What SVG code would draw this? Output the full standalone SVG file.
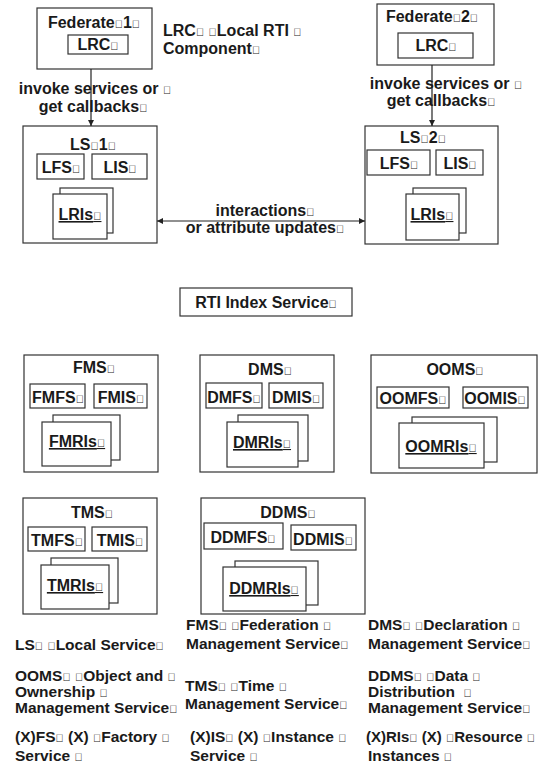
<svg xmlns="http://www.w3.org/2000/svg" width="540" height="784" viewBox="0 0 540 784">
<defs>
<marker id="ah" viewBox="0 0 10 10" refX="10" refY="5" markerWidth="7" markerHeight="6" orient="auto-start-reverse" markerUnits="userSpaceOnUse"><path d="M0,0 L10,5 L0,10 z" fill="#222"/></marker>
</defs>
<style>
text{font-family:"Liberation Sans",Arial,sans-serif;font-weight:bold;font-size:16px;fill:#1a1a1a}
.lg{font-size:15.5px}
.sm{font-size:15px}
.t{font-size:11px}
.c{text-anchor:middle}
.b{fill:#fff;stroke:#333;stroke-width:1.2}
.u{text-decoration:underline}
.ln{stroke:#222;stroke-width:1.2;fill:none}
</style>
<rect width="540" height="784" fill="#fff"/>

<g id="federate1">
<rect class="b" x="37" y="8" width="115" height="61"/>
<text class="c" x="94" y="28">Federate<tspan class="t">&#xF020;</tspan>1<tspan class="t">&#xF020;</tspan></text>
<rect class="b" x="68" y="35" width="60" height="19"/>
<text class="c" x="98" y="50">LRC<tspan class="t">&#xF020;</tspan></text>
</g>

<g id="lrc-note">
<text x="163" y="36">LRC<tspan class="t">&#xF020;</tspan> <tspan class="t">&#xF020;</tspan>Local RTI <tspan class="t">&#xF020;</tspan></text>
<text x="163" y="54">Component<tspan class="t">&#xF020;</tspan></text>
</g>

<g id="federate2">
<rect class="b" x="377" y="4" width="117" height="61"/>
<text class="c" x="432" y="22">Federate<tspan class="t">&#xF020;</tspan>2<tspan class="t">&#xF020;</tspan></text>
<rect class="b" x="398" y="33" width="75" height="25"/>
<text class="c" x="436" y="51">LRC<tspan class="t">&#xF020;</tspan></text>
</g>

<g id="ls1">
<rect class="b" x="23" y="126" width="134" height="117"/>
<text class="c" x="93" y="150">LS<tspan class="t">&#xF020;</tspan>1<tspan class="t">&#xF020;</tspan></text>
<rect class="b" x="37" y="154" width="47" height="25"/>
<text class="c" x="61" y="173">LFS<tspan class="t">&#xF020;</tspan></text>
<rect class="b" x="92" y="154" width="55" height="25"/>
<text class="c" x="120" y="173">LIS<tspan class="t">&#xF020;</tspan></text>
<rect class="b" x="60" y="188" width="53" height="45"/>
<rect class="b" x="53" y="194" width="54" height="45"/>
<text class="c u" x="80" y="220">LRIs<tspan class="t">&#xF020;</tspan></text>
</g>

<g id="ls2">
<rect class="b" x="365" y="126" width="133" height="118"/>
<text class="c" x="423" y="143">LS<tspan class="t">&#xF020;</tspan>2<tspan class="t">&#xF020;</tspan></text>
<rect class="b" x="367" y="150" width="63" height="25"/>
<text class="c" x="399" y="169">LFS<tspan class="t">&#xF020;</tspan></text>
<rect class="b" x="436" y="150" width="47" height="25"/>
<text class="c" x="460" y="169">LIS<tspan class="t">&#xF020;</tspan></text>
<rect class="b" x="413" y="188" width="53" height="45"/>
<rect class="b" x="406" y="194" width="53" height="46"/>
<text class="c u" x="432" y="220">LRIs<tspan class="t">&#xF020;</tspan></text>
</g>

<g id="connectors">
<line class="ln" x1="91" y1="69" x2="91" y2="126" marker-end="url(#ah)"/>
<line class="ln" x1="432" y1="65" x2="432" y2="126" marker-end="url(#ah)"/>
<line class="ln" x1="157" y1="221" x2="365" y2="221" marker-start="url(#ah)" marker-end="url(#ah)"/>
<text class="c" x="95" y="94">invoke services or <tspan class="t">&#xF020;</tspan></text>
<text class="c" x="93" y="112">get callbacks<tspan class="t">&#xF020;</tspan></text>
<text class="c" x="446" y="89">invoke services or <tspan class="t">&#xF020;</tspan></text>
<text class="c" x="441" y="106">get callbacks<tspan class="t">&#xF020;</tspan></text>
<text class="c" x="265" y="216">interactions<tspan class="t">&#xF020;</tspan></text>
<text class="c" x="265" y="233">or attribute updates<tspan class="t">&#xF020;</tspan></text>
</g>

<g id="rti-index">
<rect class="b" x="180" y="288" width="172" height="28"/>
<text class="c" x="266" y="308">RTI Index Service<tspan class="t">&#xF020;</tspan></text>
</g>

<g id="fms">
<rect class="b" x="24" y="355" width="134" height="117"/>
<text class="c" x="94" y="373">FMS<tspan class="t">&#xF020;</tspan></text>
<rect class="b" x="30" y="384" width="55" height="24"/>
<text class="c" x="58" y="403">FMFS<tspan class="t">&#xF020;</tspan></text>
<rect class="b" x="94" y="384" width="53" height="24"/>
<text class="c" x="121" y="403">FMIS<tspan class="t">&#xF020;</tspan></text>
<rect class="b" x="53" y="415" width="67" height="45"/>
<rect class="b" x="42" y="422" width="69" height="44"/>
<text class="c u" x="77" y="447">FMRIs<tspan class="t">&#xF020;</tspan></text>
</g>

<g id="dms">
<rect class="b" x="200" y="355" width="134" height="117"/>
<text class="c" x="270" y="375">DMS<tspan class="t">&#xF020;</tspan></text>
<rect class="b" x="206" y="383" width="56" height="25"/>
<text class="c" x="234" y="403">DMFS<tspan class="t">&#xF020;</tspan></text>
<rect class="b" x="269" y="383" width="54" height="25"/>
<text class="c" x="296" y="403">DMIS<tspan class="t">&#xF020;</tspan></text>
<rect class="b" x="238" y="415" width="70" height="46"/>
<rect class="b" x="227" y="422" width="71" height="45"/>
<text class="c u" x="262" y="448">DMRIs<tspan class="t">&#xF020;</tspan></text>
</g>

<g id="ooms">
<rect class="b" x="371" y="355" width="166" height="118"/>
<text class="c" x="455" y="375">OOMS<tspan class="t">&#xF020;</tspan></text>
<rect class="b" x="377" y="387" width="72" height="21"/>
<text class="c" x="413" y="404">OOMFS<tspan class="t">&#xF020;</tspan></text>
<rect class="b" x="463" y="387" width="65" height="21"/>
<text class="c" x="495" y="404">OOMIS<tspan class="t">&#xF020;</tspan></text>
<rect class="b" x="412" y="417" width="85" height="45"/>
<rect class="b" x="399" y="423" width="85" height="45"/>
<text class="c u" x="441" y="452">OOMRIs<tspan class="t">&#xF020;</tspan></text>
</g>

<g id="tms">
<rect class="b" x="23" y="498" width="134" height="116"/>
<text class="c" x="92" y="518">TMS<tspan class="t">&#xF020;</tspan></text>
<rect class="b" x="28" y="527" width="57" height="24"/>
<text class="c" x="57" y="546">TMFS<tspan class="t">&#xF020;</tspan></text>
<rect class="b" x="92" y="527" width="55" height="24"/>
<text class="c" x="120" y="546">TMIS<tspan class="t">&#xF020;</tspan></text>
<rect class="b" x="51" y="558" width="67" height="45"/>
<rect class="b" x="41" y="565" width="68" height="44"/>
<text class="c u" x="75" y="591">TMRIs<tspan class="t">&#xF020;</tspan></text>
</g>

<g id="ddms">
<rect class="b" x="201" y="498" width="164" height="116"/>
<text class="c" x="288" y="518">DDMS<tspan class="t">&#xF020;</tspan></text>
<rect class="b" x="204" y="523" width="79" height="26"/>
<text class="c" x="243" y="543">DDMFS<tspan class="t">&#xF020;</tspan></text>
<rect class="b" x="291" y="525" width="65" height="25"/>
<text class="c" x="323" y="545">DDMIS<tspan class="t">&#xF020;</tspan></text>
<rect class="b" x="235" y="561" width="83" height="44"/>
<rect class="b" x="223" y="567" width="83" height="44"/>
<text class="c u" x="264" y="594">DDMRIs<tspan class="t">&#xF020;</tspan></text>
</g>

<g id="legend">
<text class="lg" x="15" y="650">LS<tspan class="t">&#xF020;</tspan> <tspan class="t">&#xF020;</tspan>Local Service<tspan class="t">&#xF020;</tspan></text>
<text class="lg" x="186" y="630">FMS<tspan class="t">&#xF020;</tspan> <tspan class="t">&#xF020;</tspan>Federation <tspan class="t">&#xF020;</tspan></text>
<text class="lg" x="186" y="649">Management Service<tspan class="t">&#xF020;</tspan></text>
<text class="lg" x="368" y="630">DMS<tspan class="t">&#xF020;</tspan> <tspan class="t">&#xF020;</tspan>Declaration <tspan class="t">&#xF020;</tspan></text>
<text class="lg" x="368" y="649">Management Service<tspan class="t">&#xF020;</tspan></text>
<text class="lg" x="15" y="681">OOMS<tspan class="t">&#xF020;</tspan> <tspan class="t">&#xF020;</tspan>Object and <tspan class="t">&#xF020;</tspan></text>
<text class="lg" x="15" y="697">Ownership <tspan class="t">&#xF020;</tspan></text>
<text class="lg" x="15" y="713">Management Service<tspan class="t">&#xF020;</tspan></text>
<text class="lg" x="185" y="691">TMS<tspan class="t">&#xF020;</tspan> <tspan class="t">&#xF020;</tspan>Time <tspan class="t">&#xF020;</tspan></text>
<text class="lg" x="185" y="709">Management Service<tspan class="t">&#xF020;</tspan></text>
<text class="lg" x="368" y="681">DDMS<tspan class="t">&#xF020;</tspan> <tspan class="t">&#xF020;</tspan>Data <tspan class="t">&#xF020;</tspan></text>
<text class="lg" x="368" y="697">Distribution&#160; <tspan class="t">&#xF020;</tspan></text>
<text class="lg" x="368" y="713">Management Service<tspan class="t">&#xF020;</tspan></text>
<text class="lg" x="15" y="742">(X)FS<tspan class="t">&#xF020;</tspan> (X) <tspan class="t">&#xF020;</tspan>Factory <tspan class="t">&#xF020;</tspan></text>
<text class="lg" x="15" y="761">Service <tspan class="t">&#xF020;</tspan></text>
<text class="lg" x="190" y="742">(X)IS<tspan class="t">&#xF020;</tspan> (X) <tspan class="t">&#xF020;</tspan>Instance <tspan class="t">&#xF020;</tspan></text>
<text class="lg" x="190" y="761">Service <tspan class="t">&#xF020;</tspan></text>
<text class="sm" x="366" y="742">(X)RIs<tspan class="t">&#xF020;</tspan> (X) <tspan class="t">&#xF020;</tspan>Resource <tspan class="t">&#xF020;</tspan></text>
<text class="lg" x="368" y="761">Instances <tspan class="t">&#xF020;</tspan></text>
</g>
</svg>
